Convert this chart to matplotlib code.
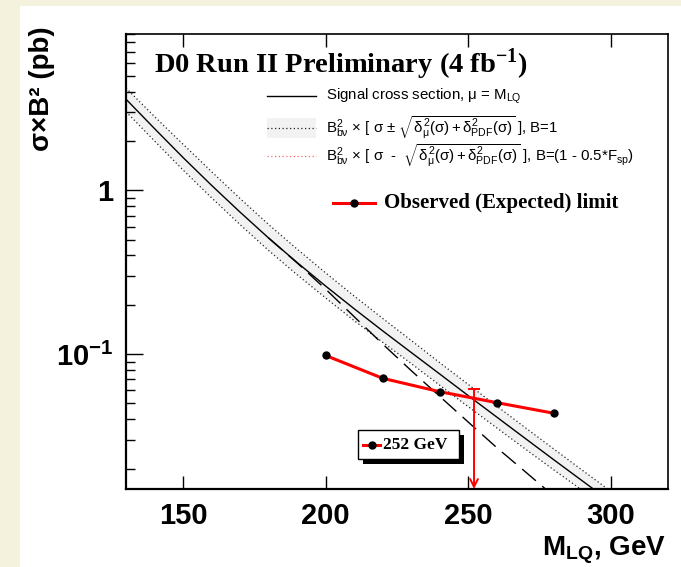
import numpy as np
import matplotlib.pyplot as plt
from matplotlib.lines import Line2D
from matplotlib.patches import Rectangle
from matplotlib.ticker import LogLocator, NullFormatter

# LQ mass grid (GeV) and NLO signal cross section x B^2 (pb), mu = M_LQ
mass = [130, 140, 150, 160, 170, 180, 190, 200, 210, 220, 230, 240, 250, 260, 270, 280, 290, 300]
sigma = [3.60, 2.38, 1.585, 1.072, 0.735, 0.511, 0.362, 0.260, 0.189, 0.1385, 0.1022, 0.0755,
         0.0557, 0.0412, 0.0305, 0.0226, 0.0168, 0.0125]
sigma_up = [4.21, 2.82, 1.91, 1.30, 0.89, 0.618, 0.437, 0.313, 0.226, 0.165, 0.121, 0.0885,
            0.0652, 0.0481, 0.0355, 0.0263, 0.0195, 0.0145]
sigma_down = [3.02, 2.00, 1.33, 0.90, 0.617, 0.429, 0.305, 0.220, 0.160, 0.118, 0.0875, 0.0645,
              0.0477, 0.0354, 0.0263, 0.0196, 0.0147, 0.0110]

# sigma - delta with B = (1 - 0.5*F_sp)
mass_b = [180, 190, 200, 210, 220, 230, 240, 250, 260, 270, 280, 290]
sigma_b = [0.511, 0.360, 0.249, 0.169, 0.115, 0.0792, 0.0551, 0.0384, 0.0268, 0.0191, 0.01356, 0.00974]

# 95% CL limit
mass_lim = [200, 220, 240, 260, 280]
limit = [0.098, 0.0711, 0.0589, 0.0505, 0.0435]
mass_excl = 252
excl_top = 0.061

beige = '#f4f2dc'
sans = 'Liberation Sans'
serif = 'Liberation Serif'

plt.rcParams['mathtext.fontset'] = 'custom'
plt.rcParams['mathtext.rm'] = sans
plt.rcParams['mathtext.it'] = sans
plt.rcParams['mathtext.sf'] = sans + ':bold'
plt.rcParams['mathtext.bf'] = serif + ':bold'

fig = plt.figure(figsize=(6.81, 5.67), dpi=100, facecolor=beige)
fig.patches.append(Rectangle((20 / 681, 0), 1, 1 - 6 / 567, transform=fig.transFigure,
                             facecolor='white', edgecolor='none', zorder=-5))
ax = fig.add_axes([126 / 681, 1 - 489 / 567, 542 / 681, 455 / 567])

# theory band
ax.fill_between(mass, sigma_down, sigma_up, color='#f2f2f2', lw=0, zorder=1)
ax.plot(mass, sigma_up, color='#222222', ls=(0, (1, 2)), lw=0.9, zorder=2)
ax.plot(mass, sigma_down, color='#222222', ls=(0, (1, 2)), lw=0.9, zorder=2)
ax.plot(mass, sigma, color='black', lw=1.0, zorder=3)
ax.plot(mass_b, sigma_b, color='black', ls=(0, (13, 6)), lw=1.0, zorder=3)

# limit
ax.plot(mass_lim, limit, color='red', lw=2.2, marker='o', ms=5, mfc='black', mec='black', zorder=5)
ax.annotate('', xy=(mass_excl, 0.015), xytext=(mass_excl, excl_top),
            arrowprops=dict(arrowstyle='->', color='red', lw=1.4, mutation_scale=14,
                            shrinkA=0, shrinkB=0), zorder=6)
ax.plot([mass_excl - 1.8, mass_excl + 1.8], [excl_top, excl_top], color='red', lw=1.4, zorder=6)

ax.set_yscale('log')
ax.set_xlim(130, 320)
ax.set_ylim(0.015, 9.0)

ax.set_xticks([150, 200, 250, 300])
ax.set_xticklabels(['150', '200', '250', '300'], fontfamily=sans, fontweight='bold', fontsize=21)
ax.set_yticks([0.1, 1])
ax.set_yticklabels([r'$\mathsf{10^{-1}}$', '1'], fontfamily=sans, fontweight='bold', fontsize=21)
ax.yaxis.set_minor_locator(LogLocator(base=10, subs=np.arange(2, 10)))
ax.yaxis.set_minor_formatter(NullFormatter())
ax.tick_params(axis='x', which='major', direction='in', length=9.5, width=1.0,
               top=True, bottom=True, pad=9)
ax.tick_params(axis='x', which='minor', bottom=False, top=False)
ax.tick_params(axis='y', which='major', direction='in', length=12, width=1.0, right=False, pad=9)
ax.tick_params(axis='y', which='minor', direction='in', length=6.5, width=1.0, right=False)
for s in ax.spines.values():
    s.set_linewidth(1.2)
ax.spines['left'].set_linewidth(1.6)
ax.spines['bottom'].set_linewidth(1.6)

fig.text(42 / 681, 1 - 26 / 567, 'σ×B² (pb)', rotation=90, ha='center', va='top',
         fontfamily=sans, fontweight='bold', fontsize=20)
fig.text(666 / 681, 1 - 555 / 567, r'M$\mathsf{_{LQ}}$, GeV', ha='right', va='baseline',
         fontfamily=sans, fontweight='bold', fontsize=20)

ax.text(0.0517, 0.915, r'D0 Run II Preliminary (4 fb$^{\mathbf{-1}}$)', transform=ax.transAxes,
        fontfamily=serif, fontweight='bold', fontsize=20.5, va='baseline')

# legend block
tx = 0.369
fs = 10.8
ax.add_line(Line2D([0.260, 0.3506], [0.8637, 0.8637], color='black', lw=1.0, transform=ax.transAxes))
ax.text(tx, 0.8637, r'Signal cross section, $\mu$ = M$_{LQ}$', transform=ax.transAxes,
        fontfamily=sans, fontsize=fs, va='center')
ax.add_patch(Rectangle((0.260, 0.7714), 0.0906, 0.044, transform=ax.transAxes,
                       facecolor='#f2f2f2', edgecolor='none'))
ax.add_line(Line2D([0.260, 0.3506], [0.7934, 0.7934], color='#222222', ls=(0, (1, 2)), lw=0.9,
                   transform=ax.transAxes))
ax.text(tx, 0.7934, r'B$^2_{b\nu}$ × [ σ ± $\sqrt{\delta^2_{\mu}(\sigma) + \delta^2_{PDF}(\sigma)}$ ], B=1',
        transform=ax.transAxes, fontfamily=sans, fontsize=fs, va='center')
ax.add_line(Line2D([0.260, 0.3506], [0.7319, 0.7319], color='#ff6666', ls=(0, (1, 2)), lw=0.9,
                   transform=ax.transAxes))
ax.text(tx, 0.7319, r'B$^2_{b\nu}$ × [ σ  -  $\sqrt{\delta^2_{\mu}(\sigma) + \delta^2_{PDF}(\sigma)}$ ], B=(1 - 0.5*F$_{sp}$)',
        transform=ax.transAxes, fontfamily=sans, fontsize=fs, va='center')

ax.add_line(Line2D([0.3819, 0.4594], [0.6286, 0.6286], color='red', lw=2.2, transform=ax.transAxes))
ax.add_line(Line2D([0.4207], [0.6286], marker='o', ms=5, color='black', transform=ax.transAxes))
ax.text(0.476, 0.6286, 'Observed (Expected) limit', transform=ax.transAxes,
        fontfamily=serif, fontweight='bold', fontsize=15, va='center')

# excluded mass box
ax.add_patch(Rectangle((0.4372, 0.0549), 0.1864, 0.0638, transform=ax.transAxes,
                       facecolor='black', edgecolor='none', zorder=7))
ax.add_patch(Rectangle((0.428, 0.0659), 0.1864, 0.0638, transform=ax.transAxes,
                       facecolor='white', edgecolor='black', lw=1.0, zorder=8))
ax.add_line(Line2D([0.4373, 0.4686], [0.0967, 0.0967], color='red', lw=2.2,
                   transform=ax.transAxes, zorder=9))
ax.add_line(Line2D([0.4533], [0.0967], marker='o', ms=5, color='black',
                   transform=ax.transAxes, zorder=9))
ax.text(0.474, 0.0967, '%d GeV' % mass_excl, transform=ax.transAxes, fontfamily=serif,
        fontweight='bold', fontsize=12.5, va='center', zorder=9)

fig.savefig('out.png', dpi=100, facecolor=fig.get_facecolor())
